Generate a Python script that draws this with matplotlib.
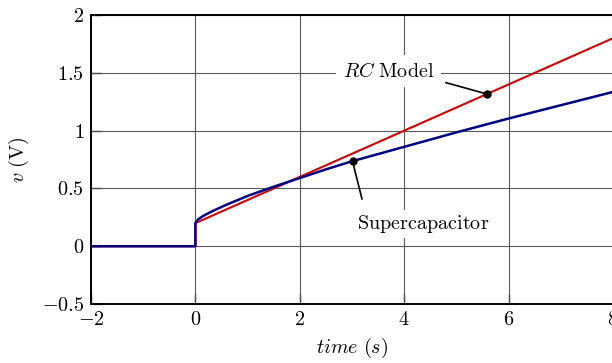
import numpy as np
import matplotlib
matplotlib.use('Agg')
import matplotlib.pyplot as plt

plt.rcParams['mathtext.fontset'] = 'cm'
plt.rcParams['font.family'] = 'serif'
plt.rcParams['font.serif'] = ['cmr10', 'DejaVu Serif']
plt.rcParams['axes.formatter.use_mathtext'] = True

# RC model (red)
t_rc = [-2, 0, 0, 8]
v_rc = [0, 0, 0.2, 1.8]

# supercapacitor (blue)
t_sc = [-2, 0, 0, 0.05, 0.15, 0.3, 0.6, 1.0, 1.5, 2.0, 2.5, 3.0, 4.0, 5.0, 6.0, 7.0, 8.0]
v_sc = [0, 0, 0.2, 0.232, 0.262, 0.298, 0.36, 0.435, 0.515, 0.59, 0.665, 0.735, 0.86, 0.985, 1.105, 1.22, 1.335]

xticks = [-2, 0, 2, 4, 6, 8]
yticks = [-0.5, 0, 0.5, 1, 1.5, 2]

fig = plt.figure(figsize=(6.12, 3.63), dpi=100)
ax = fig.add_axes([0.1487, 0.1625, 0.853, 0.796])

ax.plot(t_rc, v_rc, color='#cc0000', lw=1.5, zorder=3)
ax.plot(t_sc, v_sc, color='#000080', lw=1.8, zorder=4)

ax.set_xlim(-2, 8)
ax.set_ylim(-0.5, 2)
ax.set_xticks(xticks)
ax.set_yticks(yticks)
ax.set_xticklabels(['$-2$', '$0$', '$2$', '$4$', '$6$', '$8$'], fontsize=14.5)
ax.set_yticklabels(['$-0.5$', '$0$', '$0.5$', '$1$', '$1.5$', '$2$'], fontsize=14.5)
ax.tick_params(direction='in', length=7, width=1, color='0.3', pad=5)
ax.grid(True, color='0.35', lw=0.8)
ax.set_axisbelow(True)
for s in ax.spines.values():
    s.set_linewidth(1.4)

ax.set_xlabel(r'$time\ (s)$', fontsize=14.5, labelpad=5)
ax.set_ylabel(r'$v\ \mathrm{(V)}$', fontsize=14.5, labelpad=8)

# annotations
rc_pt = (5.585, 1.317)
sc_pt = (3.01, 0.735)
ax.plot(*rc_pt, 'o', color='k', ms=5, zorder=6)
ax.plot(*sc_pt, 'o', color='k', ms=5, zorder=6)
ax.plot([4.8, rc_pt[0]], [1.415, rc_pt[1]], color='k', lw=1.2, zorder=5)
ax.plot([3.19, sc_pt[0]], [0.41, sc_pt[1]], color='k', lw=1.2, zorder=5)
ax.text(3.7, 1.515, r'$RC\ \mathrm{Model}$', fontsize=14.5, ha='center', va='center',
        bbox=dict(fc='white', ec='none', pad=5), zorder=7)
ax.text(4.36, 0.19, r'$\mathrm{Supercapacitor}$', fontsize=14.5, ha='center', va='center',
        bbox=dict(fc='white', ec='none', pad=2), zorder=7)

fig.savefig('out.png', dpi=100)
